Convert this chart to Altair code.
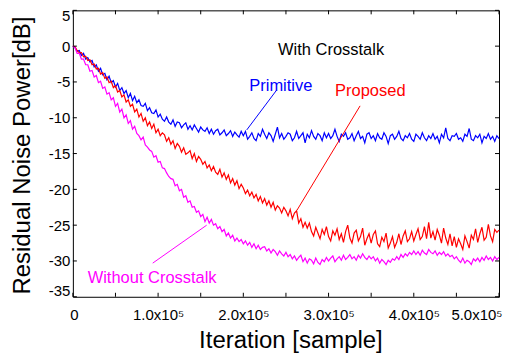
import altair as alt
import pandas as pd

# sample grid (iterations)
iteration = list(range(0, 500001, 2500))

# Residual noise power [dB]
primitive = [
    0.0, -0.2, -0.7, -0.6, -1.3, -1.0, -1.8, -1.6, -2.2, -2.0,
    -2.9, -2.6, -3.5, -3.1, -4.0, -3.8, -4.7, -4.2, -5.1, -4.8,
    -5.7, -5.2, -6.2, -5.8, -6.6, -6.2, -7.2, -6.6, -7.6, -7.0,
    -7.9, -7.5, -8.3, -8.4, -8.0, -9.0, -8.6, -9.3, -9.4, -8.9,
    -9.9, -9.5, -10.2, -10.5, -9.9, -10.6, -10.9, -10.3, -11.2, -10.6,
    -10.7, -11.4, -11.0, -10.7, -11.6, -11.1, -11.7, -11.0, -11.5, -12.0,
    -11.3, -11.7, -11.9, -11.4, -12.2, -11.6, -12.3, -11.8, -11.6, -12.4,
    -12.1, -11.7, -12.5, -12.2, -11.8, -12.6, -12.0, -12.4, -12.7, -11.9,
    -12.5, -11.9, -13.0, -12.6, -12.1, -12.9, -13.2, -12.2, -12.6, -11.6,
    -12.3, -12.9, -12.1, -12.5, -13.3, -12.3, -11.3, -12.8, -12.2, -13.0,
    -12.6, -12.1, -12.3, -13.2, -12.8, -11.9, -12.9, -12.5, -12.1, -13.5,
    -12.3, -12.8, -11.8, -12.6, -13.0, -12.2, -12.5, -13.2, -12.1, -12.8,
    -12.2, -12.9, -12.5, -11.6, -12.6, -13.3, -12.3, -12.6, -12.1, -13.0,
    -12.8, -12.2, -13.2, -12.5, -11.9, -12.9, -12.6, -13.5, -12.3, -12.1,
    -12.9, -12.5, -13.2, -12.2, -12.8, -13.0, -12.1, -12.6, -13.6, -12.5,
    -12.3, -13.0, -12.6, -11.9, -12.9, -13.2, -12.5, -12.8, -12.2, -13.0,
    -13.3, -12.3, -12.6, -13.0, -12.1, -12.8, -13.2, -12.5, -12.9, -12.2,
    -13.0, -12.6, -13.5, -12.3, -12.8, -11.4, -12.9, -13.2, -12.5, -12.6,
    -12.2, -13.0, -12.8, -13.3, -12.3, -12.6, -11.5, -13.0, -13.2, -12.5,
    -12.8, -12.3, -13.5, -12.6, -12.9, -12.2, -13.0, -12.6, -13.3, -12.5,
    -12.9,
]

proposed = [
    0.0, -0.1, -0.6, -0.9, -0.9, -1.5, -1.4, -2.0, -1.9, -2.6,
    -2.5, -3.2, -3.1, -3.9, -3.7, -4.5, -4.3, -5.1, -4.9, -5.8,
    -5.5, -6.4, -6.2, -7.1, -6.8, -7.8, -7.5, -8.4, -8.1, -9.2,
    -8.8, -9.9, -9.4, -10.5, -10.0, -11.1, -10.6, -11.5, -10.9, -12.1,
    -11.6, -12.5, -12.1, -12.4, -13.3, -12.8, -13.7, -13.2, -14.3, -13.6,
    -14.0, -14.8, -14.2, -15.1, -14.9, -14.6, -15.7, -15.0, -16.1, -15.4,
    -15.8, -16.5, -16.1, -17.0, -16.6, -17.4, -16.8, -17.6, -17.9, -17.2,
    -18.3, -17.7, -18.6, -18.0, -19.1, -18.5, -19.4, -18.8, -19.9, -19.3,
    -19.8, -20.6, -20.1, -20.9, -20.4, -21.2, -20.7, -21.6, -21.0, -21.9,
    -21.3, -22.2, -21.6, -22.5, -21.8, -22.9, -22.3, -22.6, -23.3, -22.5,
    -23.0, -23.7, -22.8, -24.1, -23.3, -23.0, -24.7, -24.1, -25.3, -24.6,
    -25.4, -24.7, -25.9, -26.5, -25.3, -26.1, -26.9, -25.6, -26.3, -25.2,
    -26.6, -27.2, -25.8, -26.4, -25.5, -27.0, -26.2, -27.4, -25.9, -25.0,
    -26.8, -27.5, -26.1, -25.7, -27.2, -26.6, -25.4, -27.8, -26.9, -26.2,
    -27.5, -26.3, -25.8, -27.6, -28.0, -26.7, -27.3, -26.1, -28.2, -27.5,
    -26.6, -28.1, -27.4, -26.2, -27.7, -26.5, -25.8, -27.3, -26.9, -25.9,
    -27.2, -26.3, -25.5, -27.0, -26.6, -25.2, -26.9, -24.6, -26.8, -25.9,
    -27.1, -25.6, -26.4, -27.5, -25.4, -26.8, -27.7, -26.2, -27.9, -26.6,
    -28.1, -26.9, -27.6, -28.4, -26.5, -27.3, -28.2, -26.4, -27.0, -25.5,
    -27.4, -26.2, -25.3, -27.1, -26.7, -24.9, -26.5, -27.3, -25.6, -26.0,
    -25.7,
]

without_crosstalk = [
    0.0, -0.2, -1.0, -1.0, -1.8, -1.8, -2.6, -2.6, -3.5, -3.4,
    -4.3, -4.1, -5.1, -4.9, -5.9, -5.7, -6.7, -6.5, -7.5, -7.2,
    -8.4, -8.0, -9.2, -8.8, -10.0, -9.6, -10.8, -10.4, -11.6, -11.2,
    -12.2, -12.5, -13.1, -12.7, -13.8, -14.1, -14.5, -14.7, -15.5, -15.3,
    -16.2, -16.1, -17.0, -17.1, -17.7, -18.2, -18.5, -18.6, -19.5, -19.3,
    -20.2, -20.0, -21.1, -20.9, -21.8, -21.6, -22.5, -22.4, -23.2, -23.0,
    -23.8, -23.5, -24.5, -23.9, -24.7, -24.2, -25.0, -24.8, -25.5, -25.2,
    -25.9, -25.6, -26.5, -26.1, -26.8, -26.4, -27.2, -26.8, -27.3, -27.0,
    -27.6, -27.2, -27.8, -27.4, -28.1, -27.6, -28.3, -27.8, -28.4, -28.1,
    -28.0, -28.6, -28.3, -28.9, -28.4, -28.7, -29.2, -28.6, -29.0, -29.3,
    -28.8, -29.4, -29.1, -29.7, -29.3, -29.9, -29.5, -29.2, -30.1, -29.6,
    -30.3, -29.7, -29.9, -30.4, -29.6, -30.2, -30.5, -29.8, -30.1, -29.5,
    -30.0, -29.6, -29.3, -30.1, -29.7, -29.4, -29.9, -29.2, -29.8, -29.5,
    -29.1, -29.7, -29.4, -29.9, -29.2, -29.6, -29.0, -29.5, -29.8, -29.3,
    -29.7, -29.4, -30.0, -29.6, -30.3, -29.8, -30.1, -30.5, -29.9, -30.2,
    -29.7, -29.9, -29.4, -29.8, -29.1, -29.5, -29.0, -29.3, -28.8, -29.1,
    -28.6, -29.1, -28.7, -29.2, -28.5, -28.9, -29.1, -28.4, -28.8, -29.0,
    -28.6, -29.2, -28.8, -29.1, -28.7, -29.3, -29.0, -29.4, -29.2, -29.7,
    -29.4, -29.9, -30.2, -29.6, -30.3, -29.9, -30.1, -30.5, -29.7, -30.0,
    -29.6, -30.1, -29.5, -29.9, -29.3, -29.8, -29.5, -30.0, -29.4, -29.8,
    -29.5,
]

# axis ticks / labels
x_tick_values = [0, 50000, 100000, 150000, 200000, 250000, 300000,
                 350000, 400000, 450000, 500000]
x_label_values = [0, 100000, 200000, 300000, 400000, 500000]
y_tick_values = [-35, -30, -25, -20, -15, -10, -5, 0, 5]

# annotations
label_text = ["With Crosstalk", "Primitive", "Proposed", "Without Crosstalk"]
label_x = [303000, 244000, 349000, 93000]
label_y = [-1.27, -6.29, -7.0, -33.05]

pointer_x = [239000, 337000, 93700]
pointer_y = [-6.15, -8.34, -30.3]
pointer_x2 = [204000, 263000, 157000]
pointer_y2 = [-11.7, -22.9, -25.0]

BLUE = "#0000ff"
RED = "#ff0000"
MAGENTA = "#ff00ff"
FONT = "Liberation Sans"

df = pd.DataFrame({
    "iteration": iteration,
    "primitive": primitive,
    "proposed": proposed,
    "without": without_crosstalk,
})

xs = alt.Scale(domain=[0, 500000], nice=False, zero=False)
ys = alt.Scale(domain=[-35, 5], nice=False, zero=False)

x_axis = alt.Axis(
    values=x_label_values,
    labelExpr="datum.value == 0 ? '0' : format(datum.value / 100000, '.1f') + 'x10\u2075'",
    ticks=False, domain=False, grid=False,
    labelFontSize=15,
    labelColor="black", labelBaseline="alphabetic", labelPadding=23,
    labelFlush=True, labelFlushOffset=3,
    title="Iteration [sample]", titleFontSize=24, titleFontWeight="normal",
    titleColor="black", titleX=218, titleY=51, titleBaseline="alphabetic",
)
y_axis = alt.Axis(
    values=y_tick_values,
    labelExpr="'' + datum.value",
    ticks=False, domain=False, grid=False,
    labelFontSize=15, labelColor="black", labelPadding=3,
    labelFlush=True, labelFlushOffset=2,
    title="Residual Noise Power[dB]", titleFontSize=24, titleFontWeight="normal",
    titleColor="black", titleX=-43, titleY=145, titleBaseline="alphabetic",
    titleAngle=270, titleAlign="center",
)


def X(field):
    return alt.X(field, scale=xs, axis=x_axis)


def Y(field):
    return alt.Y(field, scale=ys, axis=y_axis)


base = alt.Chart(df)
layers = [
    base.mark_line(color=BLUE, strokeWidth=1.2).encode(x=X("iteration:Q"), y=Y("primitive:Q")),
    base.mark_line(color=RED, strokeWidth=1.2).encode(x=X("iteration:Q"), y=Y("proposed:Q")),
    base.mark_line(color=MAGENTA, strokeWidth=1.2).encode(x=X("iteration:Q"), y=Y("without:Q")),
]

pointer_colors = [BLUE, RED, MAGENTA]
for i in range(3):
    pdf = pd.DataFrame({"x": [pointer_x[i]], "y": [pointer_y[i]],
                        "x2": [pointer_x2[i]], "y2": [pointer_y2[i]]})
    layers.append(
        alt.Chart(pdf).mark_rule(color=pointer_colors[i], strokeWidth=1).encode(
            x=X("x:Q"), y=Y("y:Q"), x2="x2:Q", y2="y2:Q",
        )
    )

text_colors = ["black", BLUE, RED, MAGENTA]
for i in range(4):
    tdf = pd.DataFrame({"x": [label_x[i]], "y": [label_y[i]], "t": [label_text[i]]})
    layers.append(
        alt.Chart(tdf).mark_text(font=FONT, fontSize=16.5, color=text_colors[i],
                                 align="center", baseline="alphabetic").encode(
            x=X("x:Q"), y=Y("y:Q"), text="t:N",
        )
    )

# inward tick marks on all four sides
xt = pd.DataFrame({"v": x_tick_values})
yt = pd.DataFrame({"v": y_tick_values})
layers.append(alt.Chart(xt).mark_rule(color="black", strokeWidth=1).encode(
    x=X("v:Q"), y=alt.value(287), y2=alt.value(283)))
layers.append(alt.Chart(xt).mark_rule(color="black", strokeWidth=1).encode(
    x=X("v:Q"), y=alt.value(0), y2=alt.value(4)))
layers.append(alt.Chart(yt).mark_rule(color="black", strokeWidth=1).encode(
    y=Y("v:Q"), x=alt.value(0), x2=alt.value(4)))
layers.append(alt.Chart(yt).mark_rule(color="black", strokeWidth=1).encode(
    y=Y("v:Q"), x=alt.value(427), x2=alt.value(423)))

chart = alt.layer(*layers).properties(
    width=427, height=287,
    autosize=alt.AutoSizeParams(type="none"),
    padding={"left": 65, "top": 2, "right": 5, "bottom": 59},
    background="white",
).configure_view(
    stroke="black", strokeWidth=1,
).configure_axis(
    labelFont=FONT, titleFont=FONT,
)

chart.save("out.html", embed_options={"renderer": "svg", "actions": False})
